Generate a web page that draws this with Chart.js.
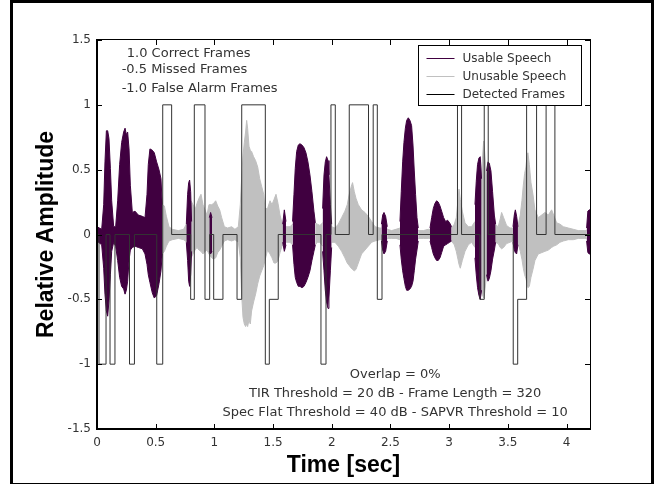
<!DOCTYPE html>
<html>
<head>
<meta charset="utf-8">
<title>Usable speech detection</title>
<script src="https://cdn.jsdelivr.net/npm/chart.js@4.4.0/dist/chart.umd.min.js"></script>
<style>
  html, body { margin: 0; padding: 0; background: #fff; }
  #wrap { width: 654px; height: 484px; }
</style>
</head>
<body>
<div id="wrap"><canvas id="speechChart" width="654" height="484"></canvas></div>
<script>
// Tick positions
const xTicks = [0, 0.5, 1, 1.5, 2, 2.5, 3, 3.5, 4];
const yTicks = [-1.5, -1, -0.5, 0, 0.5, 1, 1.5];

// Usable speech envelope (sec / upper / lower), null = break between segments
const usableTime = [
  0, 0.04, 0.057, 0.068, 0.08, 0.091, 0.102, 0.114, 0.125, 0.142, 0.159, 0.176, 0.193, 0.21, 0.227, 0.239, 0.25, 0.261, 0.273, 0.284, 0.301, 0.324, 0.352, 0.386, 0.409, 0.426, 0.437, 0.451, 0.471, 0.488, 0.508, 0.528, 0.545, 0.556, 0.556,
  0.761, 0.772, 0.781, 0.789, 0.798, 0.806, 0.806,
  0.957, 0.968, 0.98, 0.98,
  1.582, 1.596, 1.61, 1.61,
  1.666, 1.678, 1.689, 1.701, 1.715, 1.729, 1.746, 1.763, 1.78, 1.797, 1.814, 1.831, 1.848, 1.86, 1.86,
  1.922, 1.934, 1.945, 1.956, 1.968, 1.976, 1.988, 1.999, 1.999,
  2.423, 2.434, 2.445, 2.459, 2.473, 2.473,
  2.581, 2.592, 2.604, 2.615, 2.627, 2.638, 2.652, 2.666, 2.68, 2.692, 2.703, 2.714, 2.726, 2.737, 2.737,
  2.837, 2.851, 2.865, 2.879, 2.893, 2.907, 2.922, 2.936, 2.953, 2.97, 2.987, 3.004, 3.021, 3.021,
  3.22, 3.231, 3.242, 3.254, 3.265, 3.276, 3.276,
  3.319, 3.331, 3.342, 3.356, 3.37, 3.385, 3.396, 3.396,
  3.544, 3.555, 3.564, 3.575, 3.586, 3.586,
  4.171, 4.182, 4.194, 4.2
];
const usableHigh = [
  0.06, 0.04, 0.23, 0.56, 0.80, 0.80, 0.74, 0.51, 0.26, 0.06, 0.06, 0.26, 0.54, 0.71, 0.79, 0.82, 0.77, 0.79, 0.66, 0.38, 0.17, 0.18, 0.15, 0.14, 0.13, 0.31, 0.54, 0.66, 0.65, 0.63, 0.56, 0.50, 0.43, 0.23, null,
  0.08, 0.31, 0.40, 0.42, 0.33, 0.10, null,
  0.13, 0.17, 0.13, null,
  0.08, 0.19, 0.10, null,
  0.10, 0.31, 0.51, 0.64, 0.69, 0.70, 0.69, 0.67, 0.63, 0.56, 0.46, 0.33, 0.18, 0.09, null,
  0.20, 0.46, 0.56, 0.60, 0.57, 0.46, 0.23, 0.08, null,
  0.08, 0.15, 0.17, 0.14, 0.06, null,
  0.10, 0.33, 0.56, 0.71, 0.82, 0.88, 0.90, 0.88, 0.84, 0.69, 0.49, 0.31, 0.13, 0.05, null,
  0.05, 0.13, 0.20, 0.24, 0.26, 0.25, 0.22, 0.18, 0.13, 0.10, 0.11, 0.09, 0.06, null,
  0.23, 0.41, 0.54, 0.59, 0.60, 0.43, null,
  0.49, 0.56, 0.55, 0.49, 0.33, 0.15, 0.08, null,
  0.06, 0.15, 0.19, 0.14, 0.06, null,
  0.05, 0.18, 0.19, 0.19
];
const usableLow = [
  -0.05, -0.08, -0.26, -0.46, -0.59, -0.63, -0.51, -0.31, -0.13, -0.06, -0.09, -0.20, -0.33, -0.40, -0.42, -0.46, -0.43, -0.36, -0.20, -0.12, -0.10, -0.09, -0.10, -0.11, -0.15, -0.23, -0.31, -0.37, -0.45, -0.49, -0.47, -0.38, -0.28, -0.15, null,
  -0.06, -0.20, -0.36, -0.40, -0.31, -0.13, null,
  -0.13, -0.15, -0.13, null,
  -0.06, -0.13, -0.08, null,
  -0.08, -0.23, -0.33, -0.37, -0.40, -0.40, -0.41, -0.40, -0.37, -0.33, -0.28, -0.20, -0.13, -0.08, null,
  -0.13, -0.28, -0.43, -0.52, -0.57, -0.49, -0.28, -0.10, null,
  -0.05, -0.12, -0.15, -0.13, -0.05, null,
  -0.08, -0.19, -0.28, -0.34, -0.40, -0.43, -0.43, -0.42, -0.40, -0.36, -0.28, -0.19, -0.12, -0.05, null,
  -0.05, -0.10, -0.15, -0.18, -0.20, -0.20, -0.18, -0.14, -0.09, -0.08, -0.07, -0.06, -0.05, null,
  -0.18, -0.31, -0.41, -0.47, -0.50, -0.43, null,
  -0.31, -0.36, -0.34, -0.28, -0.19, -0.12, -0.06, null,
  -0.06, -0.12, -0.14, -0.15, -0.08, null,
  -0.05, -0.14, -0.15, -0.15
];

// Unusable speech envelope
const unusableTime = [
  0.556, 0.574, 0.591, 0.613, 0.642, 0.693, 0.738, 0.767, 0.767,
  0.801, 0.818, 0.835, 0.852, 0.869, 0.886, 0.903, 0.92, 0.937, 0.954, 0.977, 0.994, 1.011, 1.028, 1.045, 1.062, 1.085, 1.113, 1.147, 1.175, 1.204,
  1.221, 1.232, 1.244, 1.255, 1.266, 1.275, 1.283, 1.295, 1.306, 1.317, 1.334, 1.351, 1.369, 1.386, 1.403, 1.42, 1.431,
  1.453, 1.474, 1.491, 1.508, 1.525, 1.542, 1.559, 1.576, 1.593, 1.615, 1.644, 1.666, 1.666,
  1.86, 1.877, 1.899, 1.922, 1.922,
  1.999, 2.027, 2.056, 2.084, 2.112, 2.132, 2.149, 2.166, 2.177, 2.192, 2.206, 2.226, 2.254, 2.283, 2.311, 2.34, 2.368, 2.41, 2.423, 2.423,
  2.473, 2.51, 2.547, 2.581, 2.581,
  2.737, 2.78, 2.822, 2.837, 2.837,
  3.021, 3.044, 3.061, 3.075, 3.084, 3.095, 3.112, 3.135, 3.163, 3.191, 3.22, 3.22,
  3.271, 3.282, 3.294, 3.302, 3.313, 3.325, 3.325,
  3.39, 3.418, 3.435, 3.447, 3.464, 3.489, 3.518, 3.544, 3.544,
  3.583, 3.606, 3.62, 3.632, 3.643, 3.654, 3.663, 3.671, 3.683, 3.697, 3.714, 3.731, 3.759, 3.788, 3.816, 3.845, 3.873, 3.89, 3.916, 3.944, 3.973, 4.015, 4.058, 4.1, 4.151, 4.171
];
const unusableHigh = [
  0.23, 0.22, 0.14, 0.06, 0.04, 0.03, 0.04, 0.09, null,
  0.26, 0.23, 0.19, 0.24, 0.28, 0.31, 0.23, 0.19, 0.15, 0.23, 0.23, 0.24, 0.26, 0.22, 0.19, 0.13, 0.06, 0.05, 0.06, 0.04, 0.06,
  0.23, 0.43, 0.61, 0.71, 0.79, 0.88, 0.82, 0.68, 0.65, 0.64, 0.60, 0.57, 0.52, 0.43, 0.37, 0.31, 0.20,
  0.20, 0.26, 0.23, 0.27, 0.31, 0.24, 0.15, 0.09, 0.08, 0.06, 0.06, 0.08, null,
  0.09, 0.08, 0.07, 0.09, null,
  0.06, 0.05, 0.08, 0.13, 0.18, 0.23, 0.31, 0.37, 0.40, 0.33, 0.28, 0.23, 0.19, 0.17, 0.14, 0.10, 0.06, 0.05, 0.05, null,
  0.04, 0.03, 0.04, 0.05, null,
  0.03, 0.03, 0.04, 0.04, null,
  0.05, 0.08, 0.13, 0.26, 0.35, 0.27, 0.18, 0.09, 0.06, 0.06, 0.10, null,
  0.41, 0.56, 0.72, 0.64, 0.51, 0.38, null,
  0.08, 0.06, 0.12, 0.17, 0.13, 0.07, 0.05, 0.05, null,
  0.05, 0.15, 0.26, 0.38, 0.47, 0.52, 0.60, 0.63, 0.54, 0.40, 0.31, 0.19, 0.13, 0.15, 0.17, 0.15, 0.19, 0.15, 0.09, 0.08, 0.06, 0.05, 0.04, 0.03, 0.03, 0.03
];
const unusableLow = [
  -0.15, -0.13, -0.09, -0.05, -0.04, -0.03, -0.04, -0.06, null,
  -0.18, -0.15, -0.12, -0.10, -0.12, -0.13, -0.15, -0.13, -0.12, -0.15, -0.18, -0.19, -0.18, -0.14, -0.12, -0.09, -0.05, -0.04, -0.05, -0.04, -0.06,
  -0.18, -0.46, -0.64, -0.69, -0.71, -0.69, -0.71, -0.66, -0.69, -0.59, -0.52, -0.46, -0.38, -0.32, -0.28, -0.24, -0.20,
  -0.12, -0.15, -0.18, -0.22, -0.22, -0.20, -0.14, -0.09, -0.07, -0.06, -0.06, -0.08, null,
  -0.08, -0.06, -0.06, -0.09, null,
  -0.06, -0.06, -0.09, -0.13, -0.18, -0.22, -0.24, -0.26, -0.27, -0.28, -0.27, -0.22, -0.15, -0.12, -0.09, -0.06, -0.05, -0.04, -0.04, null,
  -0.03, -0.03, -0.03, -0.04, null,
  -0.03, -0.03, -0.03, -0.03, null,
  -0.05, -0.08, -0.13, -0.19, -0.23, -0.26, -0.20, -0.13, -0.08, -0.06, -0.10, null,
  -0.43, -0.46, -0.49, -0.45, -0.36, -0.28, null,
  -0.06, -0.07, -0.10, -0.11, -0.10, -0.07, -0.06, -0.05, null,
  -0.05, -0.13, -0.19, -0.26, -0.31, -0.34, -0.37, -0.41, -0.40, -0.33, -0.27, -0.20, -0.15, -0.14, -0.13, -0.12, -0.10, -0.09, -0.08, -0.06, -0.05, -0.04, -0.04, -0.03, -0.03, -0.03
];

// Detected frames: score starts at each edge (1 correct, -0.5 missed, -1 false alarm)
const frameEdges = [0, 0.017, 0.077, 0.111, 0.153, 0.277, 0.319, 0.509, 0.56, 0.636, 0.798, 0.829, 0.92, 0.96, 0.994, 1.073, 1.193, 1.233, 1.434, 1.468, 1.544, 1.908, 1.951, 1.993, 2.03, 2.149, 2.313, 2.353, 2.388, 2.428, 3.071, 3.106, 3.262, 3.299, 3.333, 3.546, 3.584, 3.66, 3.745, 3.826, 3.901, 4.2];
const frameLevels = [0, -1, 0, -1, 0, -1, 0, -1, 1, 0, -0.5, 1, -0.5, 0, -0.5, 0, -0.5, 1, -1, -0.5, 0, -1, 0, 1, 0, 1, 0, 1, -0.5, 0, 1, 0, -0.5, 1, 0, -1, -0.5, 1, 0, 1, 0, 0];

const legendLabels = ['Usable Speech', 'Unusable Speech', 'Detected Frames'];
const scoreNotes = ['1.0 Correct Frames', '-0.5 Missed Frames', '-1.0 False Alarm Frames'];
const settingNotes = ['Overlap = 0%', 'TIR Threshold = 20 dB - Frame Length = 320', 'Spec Flat Threshold = 40 dB - SAPVR Threshold = 10'];

const usableColor = '#400040';
const unusableColor = '#c0c0c0';
const frameColor = '#333333';
const noteFont = '13px "DejaVu Sans"';
const legendFont = '12px "DejaVu Sans"';
const titleFont = { family: '"Liberation Sans", Arial, sans-serif', size: 23, weight: 'bold' };

function toPoints(xs, ys) {
    return xs.map((t, i) => ({ x: t, y: ys[i] }));
}

// Figure border, MATLAB-style box with inward ticks, legend and notes
const matlabLook = {
    id: 'matlabLook',
    beforeDraw(chart) {
        const ctx = chart.ctx;
        ctx.save();
        ctx.fillStyle = '#fff';
        ctx.fillRect(0, 0, chart.width, chart.height);
        ctx.fillStyle = '#000';
        ctx.fillRect(10, 0, 3, chart.height);
        ctx.fillRect(10, 0, chart.width - 10, 3);
        ctx.fillRect(chart.width - 3, 0, 3, chart.height);
        ctx.fillRect(10, chart.height - 1, chart.width - 10, 1);
        ctx.restore();
    },
    afterDatasetsDraw(chart) {
        const { ctx, chartArea: a, scales: { x, y } } = chart;
        ctx.save();
        ctx.strokeStyle = '#000';
        ctx.lineWidth = 1;
        ctx.strokeRect(a.left + 0.5, a.top - 0.5, a.right - a.left, a.bottom - a.top + 0.5);
        ctx.fillStyle = '#000';
        ctx.fillRect(a.left - 1, a.top - 1, 2, a.bottom - a.top + 1);
        ctx.fillRect(a.left - 1, a.bottom - 1, a.right - a.left + 2, 2);
        ctx.beginPath();
        xTicks.forEach(v => {
            const px = Math.round(x.getPixelForValue(v)) + 0.5;
            ctx.moveTo(px, a.bottom); ctx.lineTo(px, a.bottom - 5);
            ctx.moveTo(px, a.top); ctx.lineTo(px, a.top + 5);
        });
        yTicks.forEach(v => {
            const py = Math.round(y.getPixelForValue(v)) + 0.5;
            ctx.moveTo(a.left, py); ctx.lineTo(a.left + 5, py);
            ctx.moveTo(a.right, py); ctx.lineTo(a.right - 5, py);
        });
        ctx.stroke();
        ctx.restore();
    },
    afterDraw(chart) {
        const { ctx, chartArea: a, scales: { x, y } } = chart;
        ctx.save();

        // legend box, top right inside the axes
        const lx = a.right - 171.5, ly = a.top + 5.5;
        ctx.fillStyle = '#fff';
        ctx.fillRect(lx, ly, 163, 60);
        ctx.strokeStyle = '#000';
        ctx.lineWidth = 1;
        ctx.strokeRect(lx, ly, 163, 60);
        const colors = [usableColor, unusableColor, '#000'];
        ctx.font = legendFont;
        ctx.textBaseline = 'middle';
        ctx.textAlign = 'left';
        legendLabels.forEach((label, i) => {
            const ry = Math.round(ly + 12 + i * 18.3) + 0.5;
            ctx.strokeStyle = colors[i];
            ctx.beginPath();
            ctx.moveTo(lx + 8, ry);
            ctx.lineTo(lx + 36, ry);
            ctx.stroke();
            ctx.fillStyle = '#333';
            ctx.fillText(label, lx + 44, ry);
        });

        // scoring key, top left
        ctx.font = noteFont;
        ctx.fillStyle = '#333';
        ctx.fillText(scoreNotes[0], x.getPixelForValue(0.254), y.getPixelForValue(1.398));
        ctx.fillText(scoreNotes[1], x.getPixelForValue(0.21), y.getPixelForValue(1.268));
        ctx.fillText(scoreNotes[2], x.getPixelForValue(0.21), y.getPixelForValue(1.127));

        // detector settings, bottom centre
        ctx.textAlign = 'center';
        const cx = x.getPixelForValue(2.54);
        ctx.fillText(settingNotes[0], cx, y.getPixelForValue(-1.081));
        ctx.fillText(settingNotes[1], cx, y.getPixelForValue(-1.229));
        ctx.fillText(settingNotes[2], cx, y.getPixelForValue(-1.375));
        ctx.restore();
    }
};

Chart.defaults.font.family = '"DejaVu Sans", sans-serif';
Chart.defaults.font.size = 12;
Chart.defaults.color = '#333';

new Chart(document.getElementById('speechChart'), {
    type: 'line',
    data: {
        datasets: [
            {
                label: legendLabels[2],
                data: toPoints(frameEdges, frameLevels),
                borderColor: frameColor,
                borderWidth: 1,
                stepped: true,
                pointRadius: 0,
                fill: false
            },
            {
                label: legendLabels[0],
                data: toPoints(usableTime, usableHigh),
                borderColor: usableColor,
                backgroundColor: usableColor,
                borderWidth: 1,
                pointRadius: 0,
                fill: '+1'
            },
            {
                label: legendLabels[0] + ' (low)',
                data: toPoints(usableTime, usableLow),
                borderColor: usableColor,
                borderWidth: 1,
                pointRadius: 0,
                fill: false
            },
            {
                label: legendLabels[1],
                data: toPoints(unusableTime, unusableHigh),
                borderColor: unusableColor,
                backgroundColor: unusableColor,
                borderWidth: 1,
                pointRadius: 0,
                fill: '+1'
            },
            {
                label: legendLabels[1] + ' (low)',
                data: toPoints(unusableTime, unusableLow),
                borderColor: unusableColor,
                borderWidth: 1,
                pointRadius: 0,
                fill: false
            }
        ]
    },
    options: {
        responsive: false,
        animation: false,
        devicePixelRatio: 1,
        events: [],
        spanGaps: false,
        layout: {
            padding: { left: 0, top: 40, right: 64, bottom: 0 }
        },
        plugins: {
            legend: { display: false },
            tooltip: { enabled: false },
            title: { display: false }
        },
        scales: {
            x: {
                type: 'linear',
                min: 0,
                max: 4.2,
                afterFit: scale => { scale.height = 55; },
                afterBuildTicks: scale => { scale.ticks = xTicks.map(v => ({ value: v })); },
                grid: { display: false, drawTicks: false },
                border: { display: false },
                ticks: {
                    padding: 7,
                    color: '#333',
                    callback: v => String(v)
                },
                title: {
                    display: true,
                    text: 'Time [sec]',
                    color: '#000',
                    font: titleFont,
                    padding: { top: 0, bottom: 5 }
                }
            },
            y: {
                min: -1.5,
                max: 1.5,
                afterFit: scale => { scale.width = 97; },
                afterBuildTicks: scale => { scale.ticks = yTicks.map(v => ({ value: v })); },
                grid: { display: false, drawTicks: false },
                border: { display: false },
                ticks: {
                    padding: 6,
                    color: '#333',
                    callback: v => String(v)
                },
                title: {
                    display: true,
                    text: 'Relative Amplitude',
                    color: '#000',
                    font: titleFont,
                    padding: { top: 33, bottom: 0 }
                }
            }
        }
    },
    plugins: [matlabLook]
});
</script>
</body>
</html>
